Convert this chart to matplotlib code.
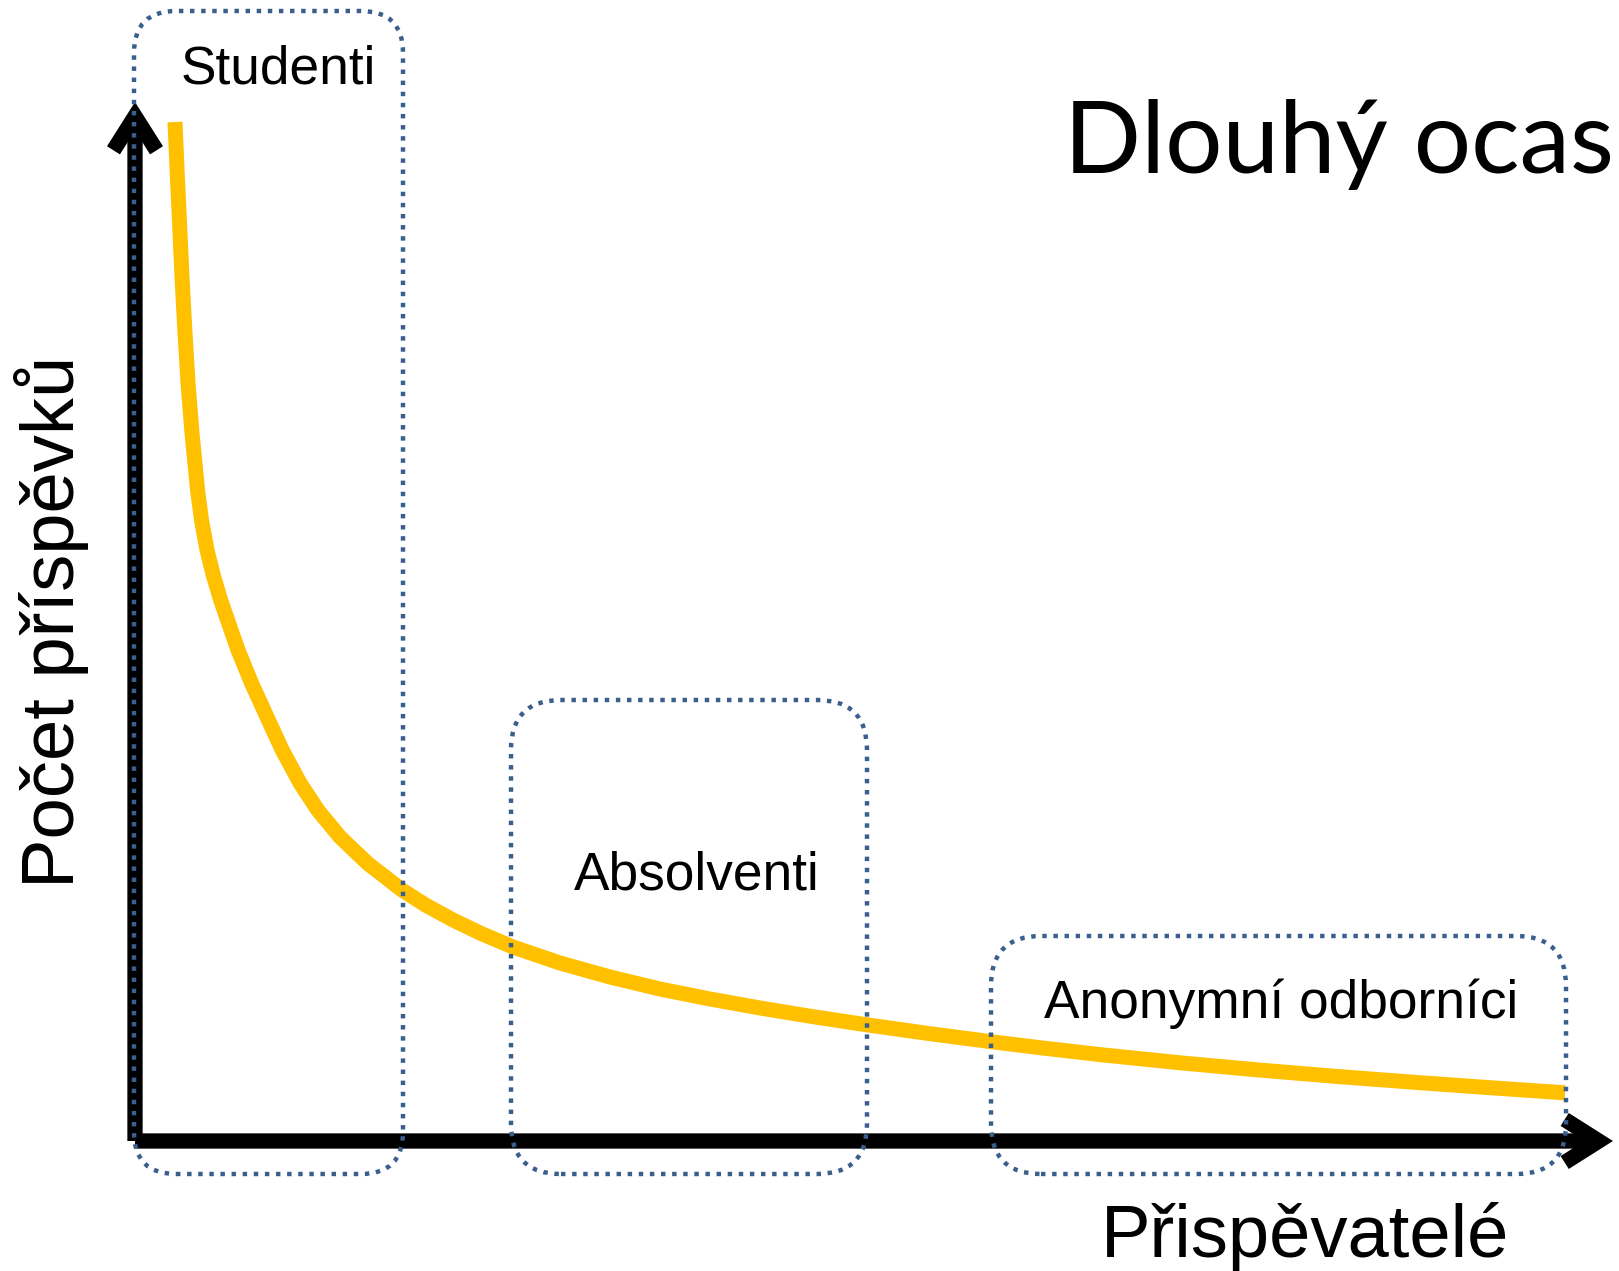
import matplotlib
matplotlib.use("Agg")
import matplotlib.pyplot as plt
from matplotlib.patches import FancyBboxPatch, FancyArrowPatch, ArrowStyle

# ---- data ----
contributors = [4.00, 4.24, 4.50, 4.73, 5.00, 5.30, 5.70, 6.27, 6.66, 7.20, 7.82, 8.56,
                10.30, 11.67, 13.20, 14.72, 16.50, 18.27, 20.50, 23.28, 26.70, 29.05,
                31.80, 34.61, 37.80, 42.50, 47.50, 52.50, 57.50, 62.50, 67.50, 73.10,
                79.50, 85.70, 90.50, 96.50, 104.50, 112.50, 120.50, 128.50, 135.50, 143.00]
contributions = [101.90, 96.35, 90.80, 85.80, 80.80, 75.80, 70.80, 64.95, 62.03, 59.10,
                 56.60, 54.10, 49.10, 45.75, 42.40, 39.10, 35.80, 33.10, 30.40, 27.75,
                 25.10, 23.60, 22.10, 20.75, 19.40, 17.80, 16.40, 15.20, 14.20, 13.30,
                 12.48, 11.63, 10.73, 9.92, 9.33, 8.64, 7.82, 7.09, 6.43, 5.83, 5.33, 4.82]

groups = ["Studenti", "Absolventi", "Anonymní odborníci"]
group_x_start = [-0.1, 37.6, 85.6]
group_x_end = [26.8, 73.2, 143.1]
group_y_top = [113.0, 44.1, 20.5]
group_y_bottom = -3.3

title = "Dlouhý ocas"
x_label = "Přispěvatelé"
y_label = "Počet příspěvků"

# ---- figure ----
fig = plt.figure(figsize=(16.19, 12.71), dpi=100)
ax = fig.add_axes([0, 0, 1, 1])
ax.set_xlim(-13.5, 148.4)
ax.set_ylim(-13.0, 114.1)
ax.axis("off")

# axes arrows
style = ArrowStyle("->", head_length=24.5, head_width=15.5)
for end in [(0, 103.9), (147.8, 0)]:
    ax.add_patch(FancyArrowPatch((0, 0), end, arrowstyle=style, mutation_scale=1,
                                 lw=11, color="black", joinstyle="miter",
                                 capstyle="butt", shrinkA=0, shrinkB=0, zorder=2))

# long-tail curve
ax.plot(contributors, contributions, color="#FFC000", lw=10.8,
        solid_capstyle="butt", solid_joinstyle="round", zorder=3)

# dotted rounded group boxes
radii = [4.2, 5.0, 5.0]
for x0, x1, yt, r in zip(group_x_start, group_x_end, group_y_top, radii):
    ax.add_patch(FancyBboxPatch((x0, group_y_bottom), x1 - x0, yt - group_y_bottom,
                                boxstyle=f"round,pad=0,rounding_size={r}",
                                fill=False, edgecolor="#3B5F8C", lw=3.2,
                                linestyle=(0, (1, 1.5)), zorder=4))

# group labels
label_pos = [(14.3, 105.8), (56.2, 25.1), (114.6, 12.3)]
for name, (lx, ly) in zip(groups, label_pos):
    ax.text(lx, ly, name, fontsize=38.3, family="Liberation Sans",
            ha="center", va="baseline", zorder=5)

ax.text(117.0, -11.6, x_label, fontsize=53.5, family="Liberation Sans",
        ha="center", va="baseline", zorder=5)
ax.text(-6.1, 51.9, y_label, fontsize=53.5, family="Liberation Sans",
        rotation=90, rotation_mode="anchor", ha="center", va="baseline", zorder=5)
ax.text(92.9, 96.8, title, fontsize=73, family="Lato",
        ha="left", va="baseline", zorder=5)

fig.savefig("out.png", dpi=100)
